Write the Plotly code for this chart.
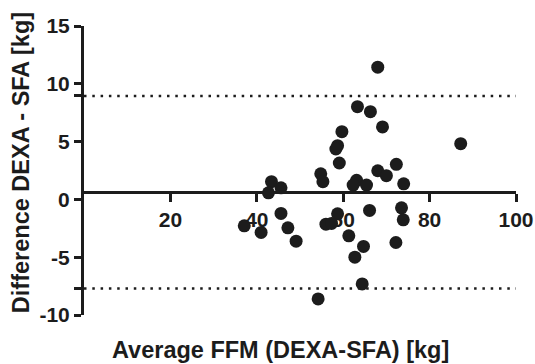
import plotly.graph_objects as go

avg_ffm = [37.1, 41.0, 43.4, 45.6, 42.7, 45.6, 47.2, 49.1,
           68.0, 63.3, 66.3, 69.1, 59.7, 58.7, 58.3, 87.2, 59.1, 72.3,
           68.0, 70.0, 54.8, 55.3, 63.1, 62.3, 65.4, 74.0, 66.1, 73.5,
           73.9, 58.7, 56.0, 57.3, 61.3, 64.7, 72.2, 62.7, 64.4, 54.2]
diff = [-2.29, -2.86, 1.53, 1.0, 0.57, -1.21, -2.46, -3.61,
        11.44, 8.02, 7.59, 6.27, 5.86, 4.65, 4.36, 4.82, 3.15, 3.03,
        2.48, 2.05, 2.22, 1.53, 1.65, 1.24, 1.24, 1.35, -0.95, -0.73,
        -1.77, -1.25, -2.14, -2.08, -3.15, -4.07, -3.73, -5.0, -7.31, -8.61]

bias = 0.62
upper_loa = 8.95
lower_loa = -7.71

x_ticks = [20, 40, 60, 80, 100]
y_ticks = [-10, lower_loa, -5, 0, 5, upper_loa, 10, 15]
y_ticktext = ["-10", "", "-5", "0", "5", "", "10", "15"]

x_range = [0, 100]
y_range = [-10, 15]

FONT = "Liberation Sans, Arial, Helvetica, sans-serif"
INK = "#1c1c1c"

fig = go.Figure()
fig.add_trace(go.Scatter(
    x=avg_ffm, y=diff, mode="markers",
    marker=dict(size=13, color=INK, line=dict(width=0)),
    showlegend=False, cliponaxis=False,
))

for yv in (upper_loa, lower_loa):
    fig.add_shape(type="line", xref="x", yref="y", x0=x_range[0], x1=x_range[1],
                  y0=yv, y1=yv, line=dict(color=INK, width=2.5, dash="2.5px,5.8px"))

bias_pos = (bias - y_range[0]) / (y_range[1] - y_range[0])

fig.update_layout(
    width=535, height=364,
    margin=dict(l=84, r=19, t=26, b=49),
    paper_bgcolor="white", plot_bgcolor="white",
    font=dict(family=FONT, color=INK),
    xaxis=dict(range=x_range, tickvals=x_ticks, showgrid=False, zeroline=False,
               showline=True, linewidth=3, linecolor=INK, automargin=False,
               ticks="outside", ticklen=8, tickwidth=3, tickcolor=INK,
               tickfont=dict(size=21, family=FONT, weight="bold", color=INK),
               anchor="free", position=bias_pos),
    yaxis=dict(range=y_range, tickvals=y_ticks, ticktext=y_ticktext,
               showgrid=False, zeroline=False, automargin=False,
               showline=True, linewidth=3, linecolor=INK,
               ticks="outside", ticklen=7, tickwidth=3, tickcolor=INK,
               tickfont=dict(size=21, family=FONT, weight="bold", color=INK)),
    annotations=[
        dict(text="Average FFM (DEXA-SFA) [kg]", xref="paper", yref="paper",
             x=0.455, xanchor="center", y=-0.121, yanchor="middle", showarrow=False,
             font=dict(size=23.5, family=FONT, weight="bold", color=INK)),
        dict(text="Difference DEXA - SFA [kg]", xref="paper", yref="paper",
             x=-0.1455, xanchor="center", y=0.526, yanchor="middle", textangle=-90,
             showarrow=False,
             font=dict(size=23.5, family=FONT, weight="bold", color=INK)),
    ],
)

fig.write_html("out.html")
